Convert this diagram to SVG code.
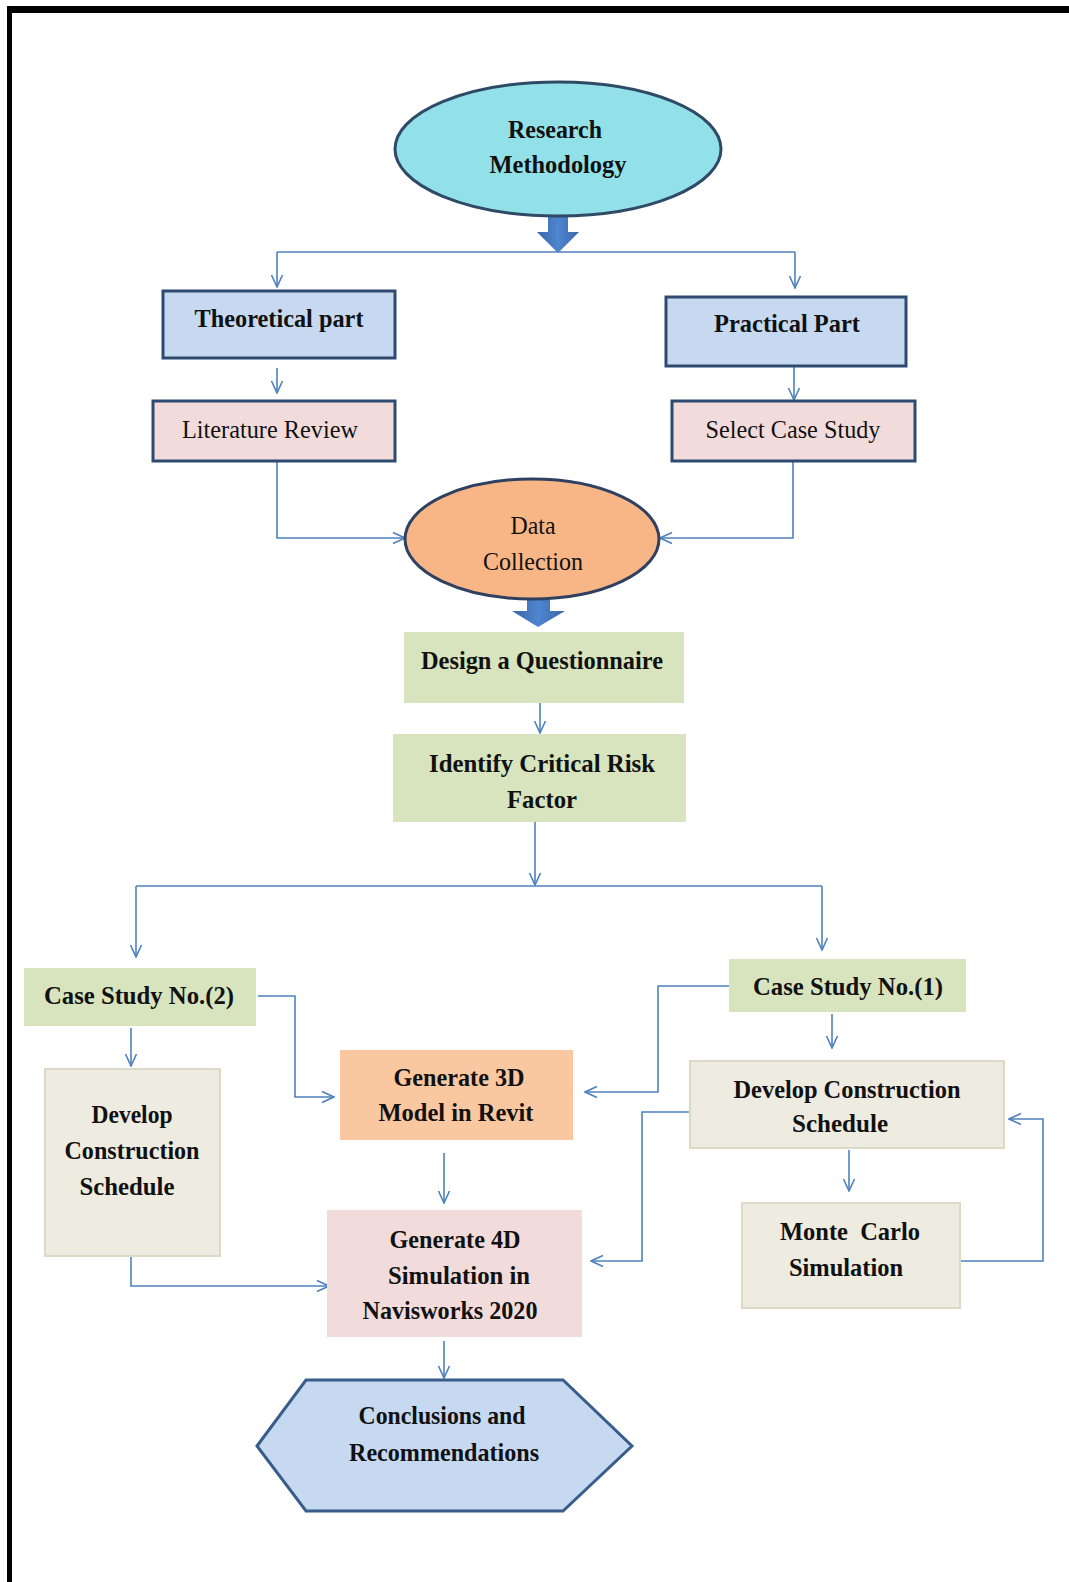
<svg xmlns="http://www.w3.org/2000/svg" width="1069" height="1582" viewBox="0 0 1069 1582">
<defs>
<style>
.t{font-family:"Liberation Serif","Times New Roman",serif;font-size:26px;font-weight:bold;fill:#111;text-anchor:middle}
.r{font-weight:normal}
.c{fill:none;stroke:#4F81BD;stroke-width:1.6}
.ca{fill:none;stroke:#4F81BD;stroke-width:1.6;marker-end:url(#ah)}
.bb{fill:#C6D9F1;stroke:#2E4A70;stroke-width:3}
.pk{fill:#F2DCDB;stroke:#2E4A70;stroke-width:3}
.gr{fill:#D7E4BD}
.gy{fill:#EEECE1;stroke:#DCD9C6;stroke-width:2}
.thick{fill:url(#tg)}
</style>
<marker id="ah" viewBox="0 0 14 14" refX="13" refY="7" markerWidth="14" markerHeight="14" markerUnits="userSpaceOnUse" orient="auto">
<path d="M1,1.5 L13,7 L1,12.5" fill="none" stroke="#4F81BD" stroke-width="1.6"/>
</marker>
<linearGradient id="tg" x1="0" y1="0" x2="1" y2="0">
<stop offset="0" stop-color="#3A66A8"/>
<stop offset="0.5" stop-color="#4F86D0"/>
<stop offset="1" stop-color="#3A66A8"/>
</linearGradient>
</defs>
<rect x="0" y="0" width="1069" height="1582" fill="#fff"/>
<rect x="7" y="6" width="1062" height="7" fill="#000"/>
<rect x="7" y="6" width="5" height="1576" fill="#000"/>

<g id="connectors">
<polygon class="thick" points="548,212 568,212 568,232 579,232 558,253 537,232 548,232"/>
<polygon class="thick" points="527,596 550,596 550,611 565,611 538,627 512,611 527,611"/>
<path class="c" d="M277,252 L795,252"/>
<path class="ca" d="M277,252 L277,287"/>
<path class="ca" d="M795,252 L795,288"/>
<path class="ca" d="M277,368 L277,393"/>
<path class="ca" d="M794,366 L794,400"/>
<path class="ca" d="M277,461 L277,538 L405,538"/>
<path class="ca" d="M793,461 L793,538 L660,538"/>
<path class="ca" d="M540,703 L540,733"/>
<path class="ca" d="M535,822 L535,885"/>
<path class="c" d="M136,886 L822,886"/>
<path class="ca" d="M136,886 L136,957"/>
<path class="ca" d="M822,886 L822,950"/>
<path class="ca" d="M131,1028 L131,1066"/>
<path class="ca" d="M258,996 L295,996 L295,1097 L334,1097"/>
<path class="ca" d="M729,986 L658,986 L658,1092 L585,1092"/>
<path class="ca" d="M832,1014 L832,1048"/>
<path class="ca" d="M690,1112 L642,1112 L642,1261 L591,1261"/>
<path class="ca" d="M849,1150 L849,1191"/>
<path class="ca" d="M960,1261 L1043,1261 L1043,1119 L1009,1119"/>
<path class="ca" d="M444,1153 L444,1203"/>
<path class="ca" d="M131,1256 L131,1286 L329,1286"/>
<path class="ca" d="M444,1341 L444,1378"/>
</g>

<g id="research-methodology">
<ellipse cx="558" cy="149" rx="163" ry="67" fill="#93E1E8" stroke="#2F4A66" stroke-width="3"/>
<text class="t" x="555" y="138" textLength="94" lengthAdjust="spacingAndGlyphs">Research</text>
<text class="t" x="558" y="173" textLength="137" lengthAdjust="spacingAndGlyphs">Methodology</text>
</g>

<g id="theoretical-part">
<rect class="bb" x="163" y="291" width="232" height="67"/>
<text class="t" x="279" y="327" textLength="169" lengthAdjust="spacingAndGlyphs">Theoretical part</text>
</g>

<g id="practical-part">
<rect class="bb" x="666" y="297" width="240" height="69"/>
<text class="t" x="787" y="332" textLength="146" lengthAdjust="spacingAndGlyphs">Practical Part</text>
</g>

<g id="literature-review">
<rect class="pk" x="153" y="401" width="242" height="60"/>
<text class="t r" x="270" y="438" textLength="176" lengthAdjust="spacingAndGlyphs">Literature Review</text>
</g>

<g id="select-case-study">
<rect class="pk" x="672" y="401" width="243" height="60"/>
<text class="t r" x="793" y="438" textLength="175" lengthAdjust="spacingAndGlyphs">Select Case Study</text>
</g>

<g id="data-collection">
<ellipse cx="532" cy="539" rx="127" ry="60" fill="#F8B686" stroke="#2F4060" stroke-width="3"/>
<text class="t r" x="533" y="534" textLength="45" lengthAdjust="spacingAndGlyphs">Data</text>
<text class="t r" x="533" y="570" textLength="100" lengthAdjust="spacingAndGlyphs">Collection</text>
</g>

<g id="design-questionnaire">
<rect class="gr" x="404" y="632" width="280" height="71"/>
<text class="t" x="542" y="669" textLength="242" lengthAdjust="spacingAndGlyphs">Design a Questionnaire</text>
</g>

<g id="identify-risk">
<rect class="gr" x="393" y="734" width="293" height="88"/>
<text class="t" x="542" y="772" textLength="226" lengthAdjust="spacingAndGlyphs">Identify Critical Risk</text>
<text class="t" x="542" y="808" textLength="70" lengthAdjust="spacingAndGlyphs">Factor</text>
</g>

<g id="case-study-2">
<rect class="gr" x="24" y="968" width="232" height="58"/>
<text class="t" x="139" y="1004" textLength="190" lengthAdjust="spacingAndGlyphs">Case Study No.(2)</text>
</g>

<g id="case-study-1">
<rect class="gr" x="729" y="959" width="237" height="53"/>
<text class="t" x="848" y="995" textLength="190" lengthAdjust="spacingAndGlyphs">Case Study No.(1)</text>
</g>

<g id="develop-schedule-left">
<rect class="gy" x="45" y="1069" width="175" height="187"/>
<text class="t" x="132" y="1123" textLength="81" lengthAdjust="spacingAndGlyphs">Develop</text>
<text class="t" x="132" y="1159" textLength="135" lengthAdjust="spacingAndGlyphs">Construction</text>
<text class="t" x="127" y="1195" textLength="95" lengthAdjust="spacingAndGlyphs">Schedule</text>
</g>

<g id="generate-3d">
<rect x="340" y="1050" width="233" height="90" fill="#FAC8A0"/>
<text class="t" x="459" y="1086" textLength="131" lengthAdjust="spacingAndGlyphs">Generate 3D</text>
<text class="t" x="456" y="1121" textLength="155" lengthAdjust="spacingAndGlyphs">Model in Revit</text>
</g>

<g id="develop-schedule-right">
<rect class="gy" x="690" y="1061" width="314" height="87"/>
<text class="t" x="847" y="1098" textLength="227" lengthAdjust="spacingAndGlyphs">Develop Construction</text>
<text class="t" x="840" y="1132" textLength="96" lengthAdjust="spacingAndGlyphs">Schedule</text>
</g>

<g id="monte-carlo">
<rect class="gy" x="742" y="1203" width="218" height="105"/>
<text class="t" x="850" y="1240" textLength="140" lengthAdjust="spacingAndGlyphs" xml:space="preserve">Monte  Carlo</text>
<text class="t" x="846" y="1276" textLength="114" lengthAdjust="spacingAndGlyphs">Simulation</text>
</g>

<g id="generate-4d">
<rect x="327" y="1210" width="255" height="127" fill="#F2DCDB"/>
<text class="t" x="455" y="1248" textLength="131" lengthAdjust="spacingAndGlyphs">Generate 4D</text>
<text class="t" x="459" y="1284" textLength="142" lengthAdjust="spacingAndGlyphs">Simulation in</text>
<text class="t" x="450" y="1319" textLength="175" lengthAdjust="spacingAndGlyphs">Navisworks 2020</text>
</g>

<g id="conclusions">
<polygon points="257,1446 306,1380 563,1380 632,1446 563,1511 306,1511" fill="#C6D9F1" stroke="#385D8A" stroke-width="3"/>
<text class="t" x="442" y="1424" textLength="167" lengthAdjust="spacingAndGlyphs">Conclusions and</text>
<text class="t" x="444" y="1461" textLength="190" lengthAdjust="spacingAndGlyphs">Recommendations</text>
</g>
</svg>
